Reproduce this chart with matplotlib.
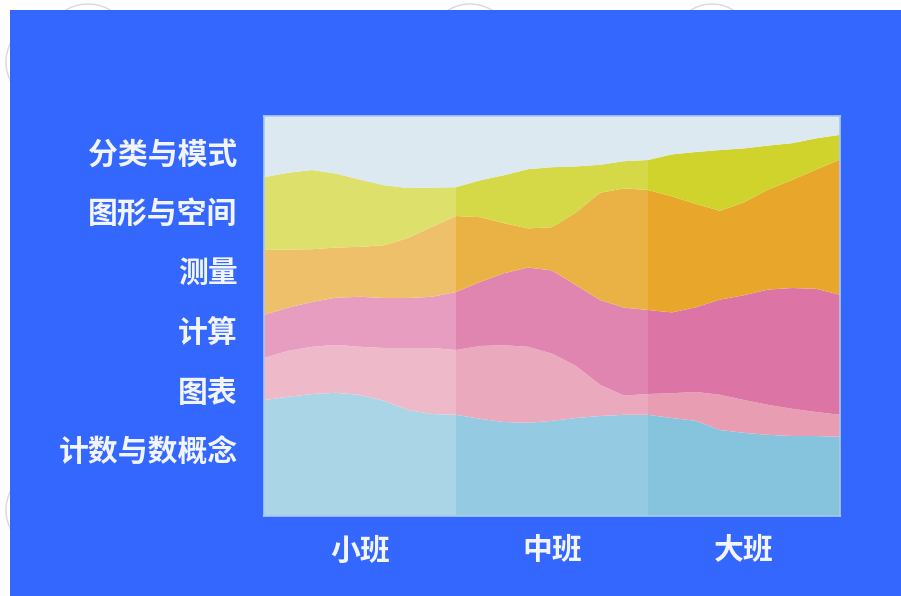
import matplotlib
matplotlib.use("Agg")
import matplotlib.pyplot as plt
import numpy as np
from matplotlib.patches import Rectangle, Circle

plt.rcParams['font.family'] = ['Noto Sans CJK SC', 'DejaVu Sans']

# 年级
grades = ['小班', '中班', '大班']
# 领域（自下而上）
domains = ['计数与数概念', '图表', '计算', '测量', '图形与空间', '分类与模式']

# 各领域占比 (%)，沿横轴 25 个采样点
count_concept = [29.0, 29.8, 30.5, 30.8, 30.3, 28.8, 26.5, 25.5, 25.3, 24.3, 23.5, 23.3, 23.8,
                 24.5, 25.0, 25.3, 25.3, 24.5, 23.8, 21.5, 20.8, 20.3, 20.0, 20.0, 19.8]
charts = [10.5, 11.5, 11.8, 12.0, 12.0, 13.2, 15.5, 16.5, 16.2, 18.2, 19.2, 19.0, 16.8,
          13.0, 7.8, 4.8, 5.2, 6.2, 7.2, 8.8, 8.2, 7.5, 6.8, 6.0, 5.5]
calculation = [10.8, 10.8, 11.2, 11.8, 12.5, 12.5, 12.5, 12.8, 14.5, 16.0, 18.0, 19.8, 20.8,
               20.2, 21.2, 22.0, 21.0, 20.2, 21.2, 23.8, 26.2, 28.8, 30.2, 30.8, 30.0]
measurement = [16.2, 14.5, 13.2, 12.5, 12.5, 13.2, 15.0, 17.5, 19.0, 16.2, 12.5, 9.8, 10.8,
               18.2, 26.8, 29.8, 30.0, 29.0, 25.8, 22.2, 23.2, 25.0, 27.0, 29.8, 33.8]
shape_space = [18.2, 19.2, 19.8, 18.5, 16.8, 15.0, 12.5, 9.8, 7.2, 9.2, 12.0, 14.8, 15.0,
               11.5, 7.0, 6.8, 7.5, 10.5, 13.0, 15.2, 13.5, 11.0, 9.2, 7.8, 6.2]
pattern = [15.2, 14.2, 13.5, 14.5, 16.0, 17.2, 18.0, 18.0, 17.8, 16.0, 14.8, 13.5, 13.0,
           12.5, 12.2, 11.5, 11.0, 9.5, 9.0, 8.5, 8.0, 7.5, 6.8, 5.8, 4.8]

# 标签位置 (%)
label_pos = [16.5, 31.5, 46.5, 61.5, 76.2, 91.0]

colors = ['#86c4de', '#e89db3', '#dc74a5', '#e8a62a', '#cfd32c', '#dce9f1']

x = np.linspace(0, 3, len(pattern))

fig = plt.figure(figsize=(9.01, 5.96), dpi=100, facecolor='white')

# 背景上的浅灰色圆圈装饰
for cx, cy, r in [(48, 62, 42), (88, 48, 44), (470, 46, 42), (712, 44, 40), (48, 510, 42)]:
    fig.patches.append(Circle((cx, 596 - cy), r, transform=None, fill=False,
                              edgecolor='#d9d9d9', lw=1.0, zorder=0))
# 蓝色底板
fig.patches.append(Rectangle((10 / 901, 0), 1, 586 / 596, transform=fig.transFigure,
                             facecolor='#3467fd', edgecolor='none', zorder=1))

ax = fig.add_axes([264 / 901, 80 / 596, 576 / 901, 400 / 596])
ax.set_zorder(2)
polys = ax.stackplot(x, count_concept, charts, calculation, measurement, shape_space, pattern,
                     colors=colors, lw=0)
# 最上层不参与淡化
polys[-1].set_zorder(2)

# 小班、中班的淡化效果
ax.axvspan(0, 1, color='white', alpha=0.3, lw=0, zorder=1.5)
ax.axvspan(1, 2, color='white', alpha=0.13, lw=0, zorder=1.5)

ax.set_xlim(0, 3)
ax.set_ylim(0, 100)
ax.set_xticks([0.5, 1.5, 2.5])
ax.set_xticklabels(grades)
ax.set_yticks(label_pos)
ax.set_yticklabels(domains)
ax.tick_params(length=0, colors='#f2f5ff', labelsize=21.5)
ax.tick_params(axis='x', pad=14)
ax.tick_params(axis='y', pad=19)
for lab in ax.get_xticklabels() + ax.get_yticklabels():
    lab.set_fontweight('bold')
for s in ax.spines.values():
    s.set_color('#a9c8f8')
    s.set_linewidth(1.2)
    s.set_zorder(3)

fig.savefig('out.png', dpi=100, facecolor='white')
